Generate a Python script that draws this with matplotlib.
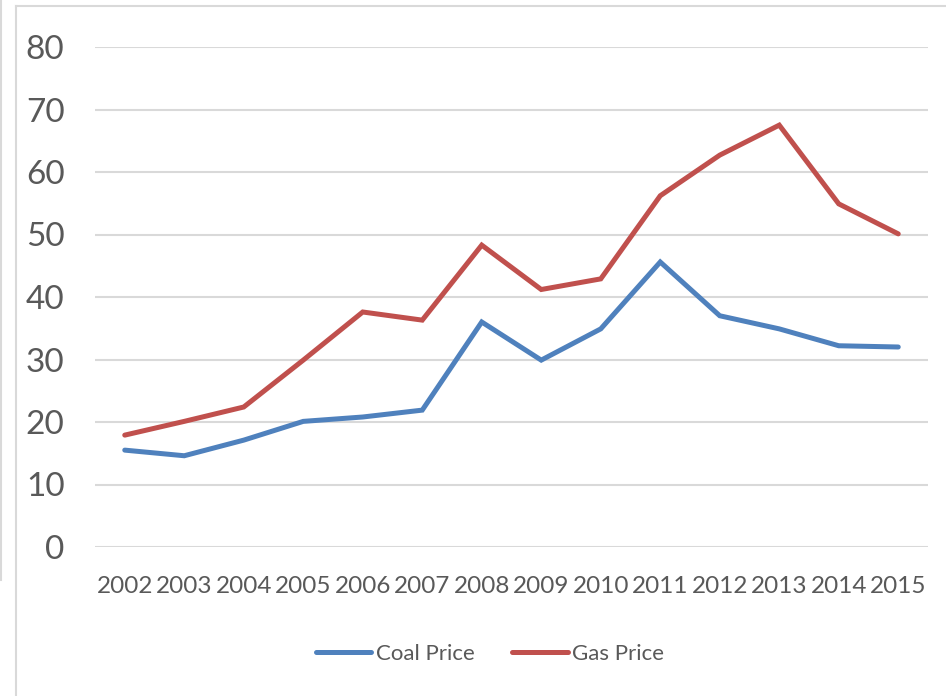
import matplotlib.pyplot as plt
from matplotlib.lines import Line2D

years = ["2002", "2003", "2004", "2005", "2006", "2007", "2008",
         "2009", "2010", "2011", "2012", "2013", "2014", "2015"]
coal_price = [15.5, 14.6, 17.1, 20.1, 20.8, 21.9, 36.0,
              29.9, 34.9, 45.6, 37.0, 34.9, 32.2, 32.0]
gas_price = [17.9, 20.1, 22.4, 29.9, 37.6, 36.3, 48.3,
             41.2, 42.9, 56.2, 62.7, 67.5, 54.9, 50.1]
y_ticks = [0, 10, 20, 30, 40, 50, 60, 70, 80]

plt.rcParams["font.family"] = ["Lato", "DejaVu Sans"]
TEXT = "#595959"

fig = plt.figure(figsize=(9.46, 6.96), dpi=100)

# chart area border (Excel-style frame)
fig.add_artist(Line2D([16 / 946, 16 / 946], [0, 1 - 6 / 696],
                      transform=fig.transFigure, color="#d9d9d9", lw=1.5))
fig.add_artist(Line2D([16 / 946, 1], [1 - 6 / 696, 1 - 6 / 696],
                      transform=fig.transFigure, color="#d9d9d9", lw=1.5))
fig.add_artist(Line2D([1 / 946, 1 / 946], [1 - 580 / 696, 1],
                      transform=fig.transFigure, color="#d9d9d9", lw=1.5))

ax = fig.add_axes([95 / 946, 1 - 547 / 696, 833 / 946, 500 / 696])
x = range(len(years))
ax.plot(x, coal_price, color="#4f81bd", lw=3.6, label="Coal Price",
        solid_capstyle="round", solid_joinstyle="miter")
ax.plot(x, gas_price, color="#c0504d", lw=3.6, label="Gas Price",
        solid_capstyle="round", solid_joinstyle="miter")

ax.set_xlim(-0.5, 13.5)
ax.set_ylim(0, 80)
ax.set_yticks(y_ticks)
ax.set_xticks(list(x))
ax.set_xticklabels(years)
ax.yaxis.grid(True, color="#d9d9d9", lw=1.5)
ax.set_axisbelow(True)
for s in ax.spines.values():
    s.set_visible(False)
ax.tick_params(axis="y", length=0, pad=22, labelsize=24, labelcolor=TEXT)
ax.tick_params(axis="x", length=0, pad=21, labelsize=17.5, labelcolor=TEXT)

fig.legend(loc="center", bbox_to_anchor=(490 / 946, 1 - 654 / 696), ncol=2,
           frameon=False, fontsize=16, labelcolor=TEXT, handlelength=2.5,
           handletextpad=0.2, columnspacing=1.7)

plt.savefig("out.png", dpi=100)
plt.close()
